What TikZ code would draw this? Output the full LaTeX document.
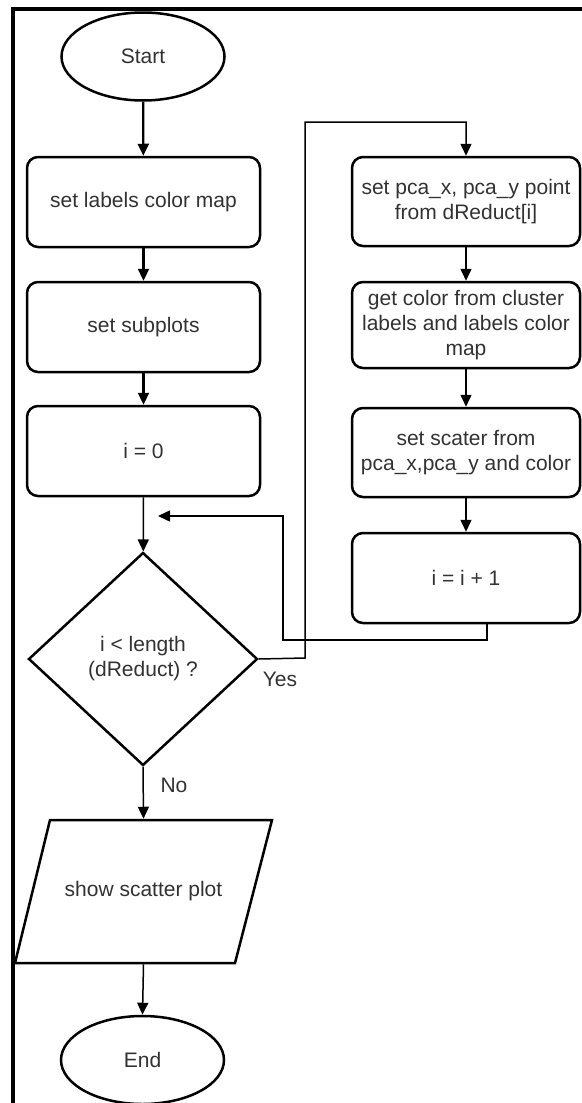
\documentclass[tikz,border=0pt]{standalone}
\usepackage{fontspec}
\setmainfont{Liberation Sans}
\usetikzlibrary{shapes.geometric,arrows.meta}
\definecolor{txt}{RGB}{50,50,50}
\begin{document}
\begin{tikzpicture}[x=1pt,y=-1pt,
  base/.style={draw=black,line width=2.5pt,text=txt,font=\fontsize{21}{25}\selectfont,align=center,inner sep=0pt},
  procbox/.style={base,rectangle,rounded corners=11pt,minimum width=233pt,minimum height=90pt},
  rbox/.style={base,rectangle,rounded corners=11pt,minimum width=228pt,minimum height=89pt},
  term/.style={base,ellipse,minimum width=163pt,minimum height=88pt},
  dec/.style={base,diamond,aspect=1.07,minimum width=229pt,minimum height=213pt},
  conn/.style={line width=1.5pt,-{Triangle[length=12pt,width=11pt]}},
  connthick/.style={line width=2.3pt,-{Triangle[length=12pt,width=11pt]}},
  lbl/.style={text=txt,font=\fontsize{21}{25}\selectfont,inner sep=0pt}
]
\useasboundingbox (0,0) rectangle (581,1103);
% frame
\draw[line width=4pt] (13,1110) -- (13,9) -- (590,9);

\node[term] (start) at (143,56.5) {Start};
\node[procbox] (b1) at (143.5,202) {set labels color map};
\node[procbox] (b2) at (143.5,327) {set subplots};
\node[procbox] (b3) at (143.5,451) {i = 0};
\node[dec] (d) at (143,659) {i < length\\(dReduct) ?};
\node[base,draw=none,minimum width=222pt,minimum height=143pt] (show) at (143.5,891.5) {show scatter plot};
\draw[line width=2.5pt,line join=miter] (50,820) -- (272,820) -- (235,963) -- (15,963) -- cycle;
\node[term] (end) at (142.5,1060) {End};

\node[rbox] (r1) at (466,201.5) {set pca\_x, pca\_y point\\from dReduct[i]};
\node[rbox,minimum height=86pt] (r2) at (466,325) {get color from cluster\\labels and labels color\\map};
\node[rbox] (r3) at (466,452.5) {set scater from\\pca\_x,pca\_y and color};
\node[rbox,minimum height=90pt] (r4) at (466,578) {i = i + 1};

\draw[connthick] (start) -- (b1);
\draw[connthick] (b1) -- (b2);
\draw[connthick] (b2) -- (b3);
\draw[conn] (b3) -- (d);
\draw[conn] (d.south) -- (show.north);
\draw[conn] (show.south) -- (end.north);
\node[lbl] (no) at (174,785) {No};

\draw[conn] (r1) -- (r2);
\draw[conn] (r2) -- (r3);
\draw[conn] (r3) -- (r4);

% yes branch
\coordinate (y1) at (305,658);
\coordinate (y2) at (305,122);
\draw[conn] (d.east) -- (y1) -- (y2) -- (y2 -| r1.north) -- (r1.north);
\node[lbl] (yes) at (280,679) {Yes};

% loop back
\coordinate (l1) at (487,640);
\coordinate (l2) at (283,640);
\coordinate (l3) at (283,516);
\coordinate (l4) at (158,516);
\draw[conn] (l1 |- r4.south) -- (l1) -- (l2) -- (l3) -- (l4);
\end{tikzpicture}
\end{document}
